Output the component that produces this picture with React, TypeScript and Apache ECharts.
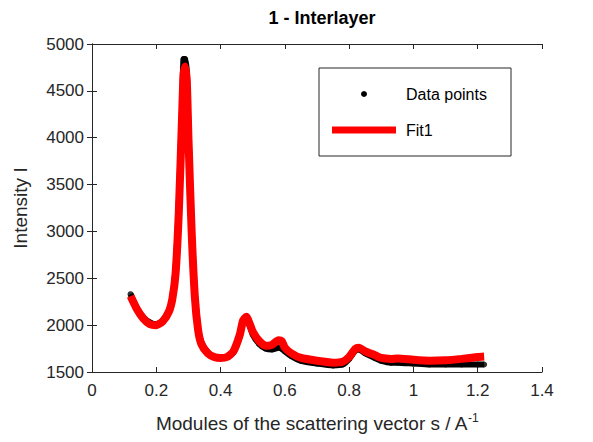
import { useEffect, useRef } from "react"
import * as echarts from "echarts"

const sValues = [
  0.12, 0.14, 0.16, 0.18, 0.2, 0.22, 0.24, 0.25, 0.26, 0.27, 0.28, 0.285, 0.29, 0.295, 0.3, 0.31, 0.32,
  0.33, 0.34, 0.36, 0.38, 0.4, 0.42, 0.44, 0.46, 0.47, 0.48, 0.49, 0.5, 0.52, 0.54, 0.56, 0.58, 0.59,
  0.6, 0.62, 0.65, 0.7, 0.75, 0.78, 0.8, 0.82, 0.83, 0.85, 0.88, 0.9, 0.93, 0.95, 1.0, 1.05, 1.1,
  1.15, 1.2, 1.22,
]
const fitValues = [
  2310, 2170, 2070, 2010, 2000, 2040, 2150, 2280, 2550, 3200, 4200, 4680, 4760, 4600, 4000, 3000, 2300,
  1950, 1800, 1700, 1660, 1650, 1660, 1720, 1900, 2050, 2090, 2020, 1930, 1830, 1780, 1790, 1840, 1830,
  1760, 1700, 1650, 1620, 1600, 1610, 1660, 1750, 1760, 1720, 1680, 1650, 1640, 1645, 1630, 1620, 1625,
  1640, 1660, 1665,
]
const dataValues = [
  2330, 2180, 2080, 2030, 2010, 2050, 2160, 2300, 2600, 3300, 4300, 4840, 4840, 4700, 4100, 3050, 2350,
  1980, 1820, 1710, 1660, 1650, 1660, 1710, 1880, 2040, 2080, 2000, 1900, 1800, 1750, 1740, 1760, 1750,
  1720, 1670, 1620, 1590, 1570, 1580, 1640, 1730, 1740, 1700, 1650, 1620, 1600, 1600, 1590, 1580, 1580,
  1580, 1580, 1580,
]

export default function App() {
  const chartRef = useRef<HTMLDivElement>(null)

  useEffect(() => {
    if (!chartRef.current) return
    const chart = echarts.init(chartRef.current, undefined, { renderer: "svg" })
    const font = "Liberation Sans, Arial, sans-serif"
    const axisBase = {
      axisLine: { show: true, lineStyle: { color: "#262626", width: 1 } },
      axisTick: { show: true, inside: true, length: 5, lineStyle: { color: "#262626" } },
      splitLine: { show: false },
    }
    chart.setOption({
      animation: false,
      textStyle: { fontFamily: font },
      title: {
        text: "1 - Interlayer",
        left: 317,
        top: 4,
        textAlign: "center",
        textStyle: { fontSize: 18, fontWeight: "bold", color: "#000", fontFamily: font },
      },
      grid: { left: 92, right: 51, top: 44, bottom: 70 },
      xAxis: [
        {
          type: "value",
          min: 0,
          max: 1.4,
          interval: 0.2,
          ...axisBase,
          axisLabel: { color: "#262626", fontSize: 17, margin: 10 },
          name: "{a|Modules of the scattering vector s / A}{s|-1}",
          nameLocation: "middle",
          nameGap: 40,
          nameTextStyle: {
            rich: {
              a: { fontSize: 19, color: "#262626", fontFamily: font },
              s: { fontSize: 12, color: "#262626", fontFamily: font, verticalAlign: "top", padding: [0, 0, 10, 0] },
            },
          },
        },
        { type: "value", position: "top", min: 0, max: 1.4, interval: 0.2, ...axisBase, axisLabel: { show: false } },
      ],
      yAxis: [
        {
          type: "value",
          min: 1500,
          max: 5000,
          interval: 500,
          ...axisBase,
          axisLabel: { color: "#262626", fontSize: 17, margin: 8, formatter: (v: number) => String(v) },
          name: "Intensity I",
          nameLocation: "middle",
          nameGap: 62,
          nameTextStyle: { fontSize: 19, color: "#262626" },
        },
        { type: "value", position: "right", min: 1500, max: 5000, interval: 500, ...axisBase, axisLabel: { show: false } },
      ],
      series: [
        {
          name: "Data points",
          type: "scatter",
          data: sValues.map((s, i) => [s, dataValues[i]]),
          symbolSize: 6,
          itemStyle: { color: "#000" },
        },
        {
          name: "Data points line",
          type: "line",
          data: sValues.map((s, i) => [s, dataValues[i]]),
          showSymbol: false,
          smooth: 0.2,
          lineStyle: { color: "#000", width: 6 },
        },
        {
          name: "Fit1",
          type: "line",
          data: sValues.map((s, i) => [s, fitValues[i]]),
          showSymbol: false,
          smooth: 0.2,
          lineStyle: { color: "#ff0000", width: 8 },
        },
      ],
      graphic: [
        { type: "rect", shape: { x: 319, y: 68, width: 192, height: 88 }, style: { fill: "#fff", stroke: "#262626", lineWidth: 1 } },
        { type: "circle", shape: { cx: 364, cy: 94, r: 3 }, style: { fill: "#000" } },
        { type: "text", x: 406, y: 94, style: { text: "Data points", fontSize: 16, fill: "#000", verticalAlign: "middle", fontFamily: font } },
        { type: "line", shape: { x1: 332, y1: 130, x2: 396, y2: 130 }, style: { stroke: "#ff0000", lineWidth: 7 } },
        { type: "text", x: 406, y: 130, style: { text: "Fit1", fontSize: 16, fill: "#000", verticalAlign: "middle", fontFamily: font } },
      ],
    })
    return () => chart.dispose()
  }, [])

  return <div ref={chartRef} style={{ width: 593, height: 442, margin: -8 }} />
}
